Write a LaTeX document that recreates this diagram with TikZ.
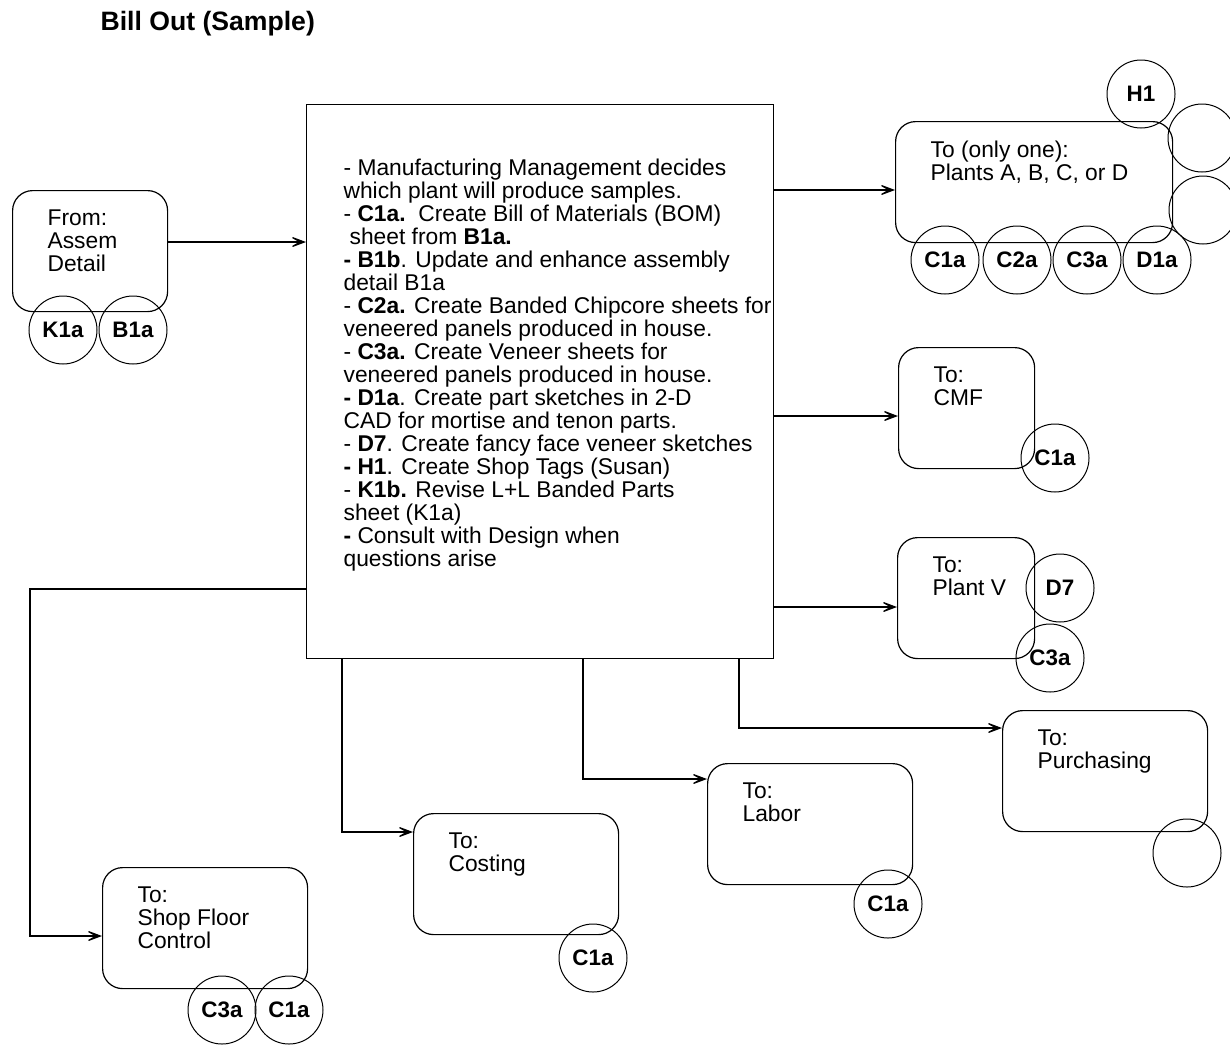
\documentclass[tikz,border=0pt]{standalone}
\usepackage{fontspec}
\setmainfont{Liberation Sans}
\usepackage{xcolor}
\usepackage{tikz}
\usetikzlibrary{positioning, arrows.meta}

\begin{document}
\begin{tikzpicture}[x=0.5pt, y=-0.5pt, line width=0.6pt,
    every node/.style={font=\fontsize{11.4}{11.5}\selectfont},
    mainbox/.style={draw, rectangle, anchor=north west, inner sep=0pt, minimum width=233.5pt, minimum height=277pt},
    maintext/.style={align=left, inner sep=0pt},
    tobox/.style={draw, rectangle, rounded corners=10pt, anchor=north west, inner sep=0pt, minimum width=#1, minimum height=60.5pt},
    boxtext/.style={anchor=north west, align=left, inner sep=0pt, xshift=17.5pt, yshift=-9.5pt},
    refnode/.style={circle, draw, line width=0.5pt, inner sep=0pt, minimum size=34pt, font=\fontsize{11.2}{11.5}\selectfont\bfseries},
    arrow/.style={-{Stealth[length=10pt, width=7.5pt, inset=6.5pt]}}]

    \fill[white] (0,0) rectangle (1230,1044);
    \useasboundingbox (0,0) rectangle (1230,1044);

    % Title
    \node[font=\fontsize{13.3}{14}\selectfont\bfseries, anchor=base west, inner sep=0pt] (title) at (100,30) {Bill Out (Sample)};

    % Main box
    \node[mainbox] (main) at (306,104) {};
    \node[maintext, below right=27.25pt and 18.5pt of main.north west] (mainlist) {%
        - Manufacturing Management decides\\
        which plant will produce samples.\\
        - \textbf{C1a.}\ \ Create Bill of Materials (BOM)\\
        \hspace*{3pt}sheet from \textbf{B1a.}\\
        \textbf{- B1b}. Update and enhance assembly\\
        detail B1a\\
        - \textbf{C2a.} Create Banded Chipcore sheets for\\
        veneered panels produced in house.\\
        - \textbf{C3a.} Create Veneer sheets for\\
        veneered panels produced in house.\\
        \textbf{- D1a}. Create part sketches in 2-D\\
        CAD for mortise and tenon parts.\\
        - \textbf{D7}. Create fancy face veneer sketches\\
        \textbf{- H1}. Create Shop Tags (Susan)\\
        - \textbf{K1b.} Revise L+L Banded Parts\\
        sheet (K1a)\\
        \textbf{-} Consult with Design when\\
        questions arise};

    % Source and target boxes
    \node[tobox=77.5pt, label={[boxtext]north west:{From:\\Assem\\Detail}}] (from) at (12,190) {};
    \node[tobox=138.5pt, label={[boxtext]north west:{To (only one):\\Plants A, B, C, or D}}] (plants) at (895,121) {};
    \node[tobox=68pt, label={[boxtext]north west:{To:\\CMF}}] (cmf) at (898,347) {};
    \node[tobox=68.5pt, label={[boxtext]north west:{To:\\Plant V}}] (plantv) at (897,537) {};
    \node[tobox=102.5pt, label={[boxtext]north west:{To:\\Purchasing}}] (purch) at (1002,710) {};
    \node[tobox=102.5pt, label={[boxtext]north west:{To:\\Labor}}] (labor) at (707,763) {};
    \node[tobox=102.5pt, label={[boxtext]north west:{To:\\Costing}}] (costing) at (413,813) {};
    \node[tobox=102.5pt, label={[boxtext]north west:{To:\\Shop Floor\\Control}}] (shop) at (102,867) {};

    % Reference circles
    \node[refnode] (from-k1a) at (63,330) {K1a};
    \node[refnode] (from-b1a) at (133,330) {B1a};

    \node[refnode] (plants-h1) at (1141,94) {H1};
    \node[refnode] (plants-e1) at (1202,138) {};
    \node[refnode] (plants-e2) at (1203,210) {};
    \node[refnode] (plants-c1a) at (945,260) {C1a};
    \node[refnode] (plants-c2a) at (1017,260) {C2a};
    \node[refnode] (plants-c3a) at (1087,260) {C3a};
    \node[refnode] (plants-d1a) at (1157,260) {D1a};

    \node[refnode] (cmf-c1a) at (1055,458) {C1a};
    \node[refnode] (plantv-d7) at (1060,588) {D7};
    \node[refnode] (plantv-c3a) at (1050,658) {C3a};
    \node[refnode] (purch-e1) at (1187,853) {};
    \node[refnode] (labor-c1a) at (888,904) {C1a};
    \node[refnode] (costing-c1a) at (593,958) {C1a};
    \node[refnode] (shop-c3a) at (222,1010) {C3a};
    \node[refnode] (shop-c1a) at (289,1010) {C1a};

    % Arrows
    \draw[arrow] (from.east |- 0,242) -- (main.west |- 0,242);
    \draw[arrow] (main.east |- 0,190) -- (plants.west |- 0,190);
    \draw[arrow] (main.east |- 0,416) -- (cmf.west |- 0,416);
    \draw[arrow] (main.east |- 0,607) -- (plantv.west |- 0,607);
    \draw[arrow] (main.south -| 739,0) |- (purch.west |- 0,728);
    \draw[arrow] (main.south -| 583,0) |- (labor.west |- 0,779);
    \draw[arrow] (main.south -| 342,0) |- (costing.west |- 0,832);
    \draw[arrow] (main.west |- 0,589) -| (30,936) -- (shop.west |- 0,936);

\end{tikzpicture}
\end{document}
